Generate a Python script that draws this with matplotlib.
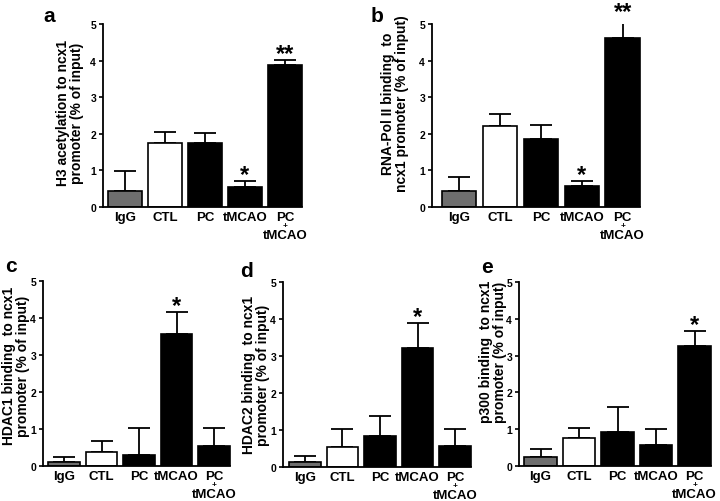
import numpy as np
import matplotlib.pyplot as plt

plt.rcParams['font.family'] = ['Liberation Sans', 'DejaVu Sans']
plt.rcParams['font.weight'] = 'bold'

groups = ["IgG", "CTL", "PC", "tMCAO", "PC"]
bar_colors = ["#6e6e6e", "white", "black", "black", "black"]

# panel a: H3 acetylation
h3_mean = [0.45, 1.75, 1.75, 0.56, 3.87]
h3_top = [0.97, 2.05, 2.02, 0.70, 4.01]
# panel b: RNA-Pol II
pol_mean = [0.44, 2.22, 1.85, 0.57, 4.63]
pol_top = [0.82, 2.53, 2.23, 0.72, 5.16]
# panel c: HDAC1
hdac1_mean = [0.11, 0.38, 0.29, 3.56, 0.54]
hdac1_top = [0.23, 0.68, 1.02, 4.16, 1.02]
# panel d: HDAC2
hdac2_mean = [0.14, 0.55, 0.83, 3.22, 0.56]
hdac2_top = [0.30, 1.04, 1.38, 3.90, 1.02]
# panel e: p300
p300_mean = [0.24, 0.76, 0.93, 0.57, 3.25]
p300_top = [0.45, 1.04, 1.60, 1.00, 3.67]

W, H = 720, 502
fig = plt.figure(figsize=(7.2, 5.02), dpi=100)


def px_axes(left, top, width, bottom):
    return fig.add_axes([left / W, 1 - bottom / H, width / W, (bottom - top) / H])


def fig_text(x, y, s, **kw):
    fig.text(x / W, 1 - y / H, s, **kw)


panels = [
    # letter, mean, top, stars, box(left, top, width, bottom), xlim, letter pos, ylabel, ylabel pos
    ("a", h3_mean, h3_top, {3: "*", 4: "**"}, (103, 25, 202, 208), (-0.55, 4.5), (43, 22),
     "H3 acetylation to ncx1\npromoter (% of input)", (70, 113)),
    ("b", pol_mean, pol_top, {3: "*", 4: "**"}, (432, 25, 209, 208), (-0.67, 4.45), (371, 22),
     "RNA-Pol II binding  to\nncx1 promoter (% of input)", (395, 104)),
    ("c", hdac1_mean, hdac1_top, {3: "*"}, (43, 282, 188, 467), (-0.56, 4.45), (5, 272),
     "HDAC1 binding  to ncx1\npromoter (% of input)", (16, 366)),
    ("d", hdac2_mean, hdac2_top, {3: "*"}, (283, 283, 189, 468), (-0.58, 4.45), (240, 277),
     "HDAC2 binding  to ncx1\npromoter (% of input)", (256, 375)),
    ("e", p300_mean, p300_top, {4: "*"}, (519, 283, 193, 467), (-0.56, 4.45), (481, 273),
     "p300 binding  to ncx1\npromoter (% of input)", (493, 352)),
]

for letter, mean, top, stars, box, xlim, lpos, ylab, ypos in panels:
    ax = px_axes(*box)
    x = np.arange(len(mean))
    err = np.array(top) - np.array(mean)
    ax.bar(x, mean, width=0.84, color=bar_colors, edgecolor="black", linewidth=1.2, zorder=2)
    ax.errorbar(x, mean, yerr=[np.zeros(len(mean)), err], fmt="none", ecolor="black",
                elinewidth=1.3, capsize=8, capthick=1.3, zorder=1)
    for i, s in stars.items():
        ax.text(x[i], top[i], s, ha="center", va="baseline", fontsize=17, fontweight="bold")
    ax.set_xlim(*xlim)
    ax.set_ylim(0, 5)
    ax.set_yticks(range(6))
    ax.tick_params(axis="y", labelsize=7.5, length=3, width=1.2, pad=2)
    ax.set_xticks(x)
    ax.set_xticklabels(groups, fontsize=9.5, fontweight="bold")
    ax.tick_params(axis="x", length=0, pad=3)
    for lab in ax.get_yticklabels():
        lab.set_fontweight("bold")
    ax.spines["top"].set_visible(False)
    ax.spines["right"].set_visible(False)
    ax.spines["left"].set_linewidth(1.3)
    ax.spines["bottom"].set_linewidth(1.3)
    ax.spines["bottom"].set_bounds(xlim[0], x[-1] + 0.42)
    ax.patch.set_alpha(0)
    # "+ tMCAO" under the last PC label
    ax.annotate("+", xy=(x[-1], 0), xycoords=("data", "axes fraction"), xytext=(0, -13.3),
                textcoords="offset points", ha="center", va="center", fontsize=6, fontweight="bold")
    ax.annotate("tMCAO", xy=(x[-1], 0), xycoords=("data", "axes fraction"), xytext=(0, -16),
                textcoords="offset points", ha="center", va="top", fontsize=9.5, fontweight="bold")
    fig_text(*lpos, letter, fontsize=15, fontweight="bold", va="baseline", ha="left")
    fig_text(*ypos, ylab, rotation=90, ha="center", va="center", fontsize=10,
             fontweight="bold", linespacing=1.0, multialignment="center")

fig.savefig("out.png", dpi=100)
